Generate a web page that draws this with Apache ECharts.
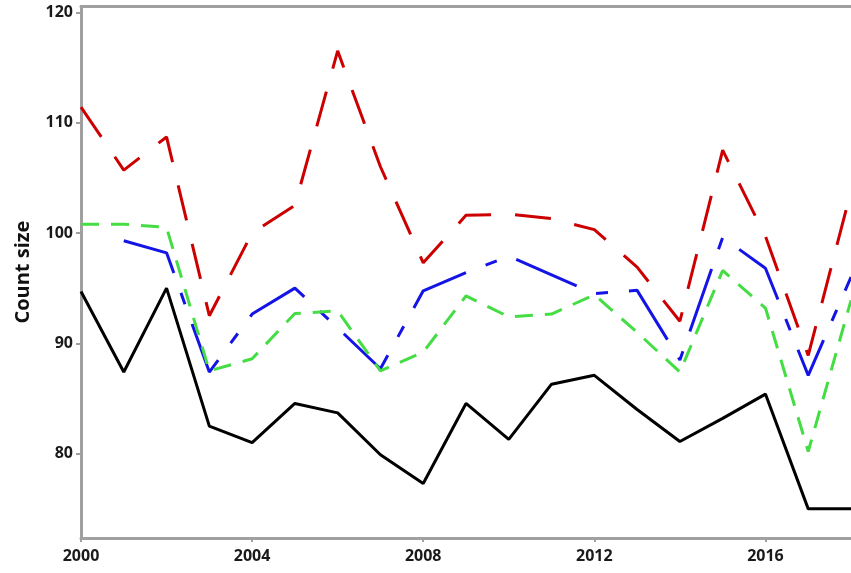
<!DOCTYPE html>
<html>
<head>
<meta charset="utf-8">
<script src="https://cdn.jsdelivr.net/npm/echarts@6/dist/echarts.min.js"></script>
<style>
html,body{margin:0;padding:0;background:#fff;}
#c{width:851px;height:573px;}
</style>
</head>
<body>
<div id="c"></div>
<script>
var years = [2000,2001,2002,2003,2004,2005,2006,2007,2008,2009,2010,2011,2012,2013,2014,2015,2016,2017,2018];
var redValues   = [111.4,105.7,108.7,92.5,100.0,102.5,116.5,106.0,97.3,101.6,101.7,101.3,100.3,96.9,92.0,107.5,99.7,88.9,103.8];
var blueValues  = [null,99.3,98.2,87.4,92.65,95.0,91.4,87.7,94.76,96.4,97.9,96.2,94.5,94.8,88.5,99.6,96.8,87.1,96.0];
var greenValues = [100.8,100.8,100.5,87.5,88.6,92.7,92.95,87.5,89.2,94.3,92.4,92.65,94.4,91.0,87.4,96.6,93.2,80.2,93.9];
var blackValues = [94.7,87.4,95.0,82.5,81.0,84.55,83.7,79.9,77.3,84.55,81.3,86.3,87.1,84.0,81.1,83.2,85.4,75.0,75.0];
var xTicks = [2000,2004,2008,2012,2016];
var yTicks = [80,90,100,110,120];
var yAxisName = 'Count size';

function pairs(vals){
  var out = [];
  for (var i = 0; i < years.length; i++) {
    if (vals[i] !== null) out.push([years[i], vals[i]]);
  }
  return out;
}

var frameColor = '#a0a0a0';
function plain(v){ return String(v); }

var chart = echarts.init(document.getElementById('c'), null, {renderer:'canvas'});
chart.setOption({
  animation:false,
  backgroundColor:'#ffffff',
  grid:{left:81, right:0, top:6.3, bottom:35, containLabel:false},
  xAxis:[{
    type:'value', min:2000, max:2018, position:'bottom',
    axisLine:{show:true, onZero:false, lineStyle:{color:frameColor, width:3}},
    axisTick:{show:true, customValues:xTicks, length:4, lineStyle:{color:frameColor, width:2}},
    axisLabel:{customValues:xTicks, margin:10, formatter:plain,
      color:'#1a1a1a', fontFamily:'Open Sans', fontWeight:'bold', fontSize:16},
    splitLine:{show:false}
  },{
    type:'value', min:2000, max:2018, position:'top',
    axisLine:{show:true, onZero:false, lineStyle:{color:frameColor, width:3}},
    axisTick:{show:false}, axisLabel:{show:false}, splitLine:{show:false}
  }],
  yAxis:{
    type:'value', min:72.36, max:120.54,
    name:yAxisName, nameLocation:'middle', nameGap:48, nameRotate:90,
    nameTextStyle:{color:'#111', fontFamily:'Open Sans', fontWeight:'bold', fontSize:20},
    axisLine:{show:true, onZero:false, lineStyle:{color:frameColor, width:3}},
    axisTick:{show:true, customValues:yTicks, length:5, lineStyle:{color:frameColor, width:2}},
    axisLabel:{customValues:yTicks, margin:8, formatter:plain,
      color:'#1a1a1a', fontFamily:'Open Sans', fontWeight:'bold', fontSize:16},
    splitLine:{show:false}
  },
  series:[
    {type:'line', data:pairs(redValues), symbol:'none', z:2,
     lineStyle:{color:'#cc0000', width:3, type:[36,24]}},
    {type:'line', data:pairs(blueValues), symbol:'none', z:3,
     lineStyle:{color:'#1414e6', width:3, type:[66,21,12,21]}},
    {type:'line', data:pairs(greenValues), symbol:'none', z:4,
     lineStyle:{color:'#44dd44', width:3, type:[18,12]}},
    {type:'line', data:pairs(blackValues), symbol:'none', z:5,
     lineStyle:{color:'#000000', width:3, type:'solid'}}
  ]
});
</script>
</body>
</html>
